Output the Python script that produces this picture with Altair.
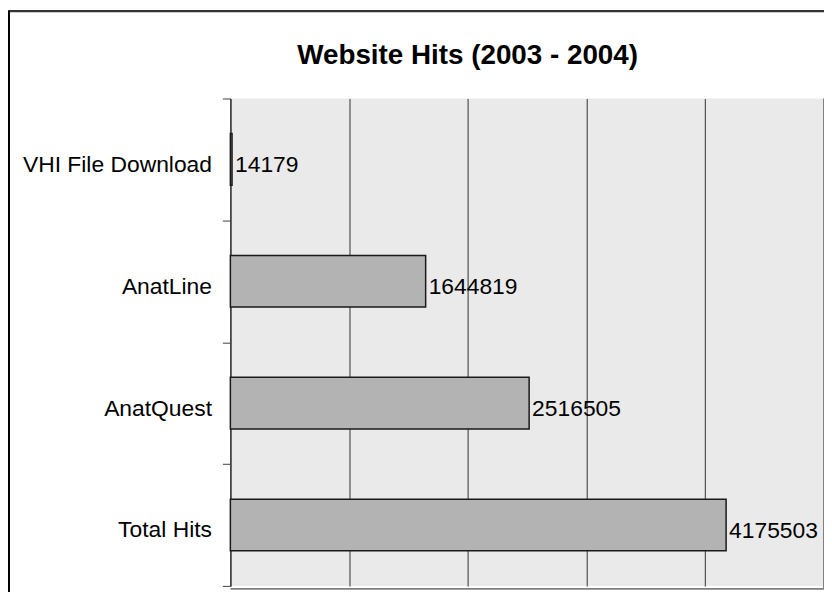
import altair as alt
import pandas as pd

categories = ["VHI File Download", "AnatLine", "AnatQuest", "Total Hits"]
hits = [14179, 1644819, 2516505, 4175503]
title_text = ["Website Hits (2003 - 2004)"]
x_ticks = [0, 1000000, 2000000, 3000000, 4000000, 5000000]

df = pd.DataFrame({"category": categories, "hits": hits})
tdf = pd.DataFrame({"t": title_text})

W, H = 598, 491
FONT = "Liberation Sans"

xs = alt.Scale(domain=[0, 5000000], nice=False, zero=True)
ys = alt.Scale(domain=categories, paddingInner=0, paddingOuter=0)

bars = alt.Chart(df).mark_bar(
    color="#B3B3B3", stroke="#1a1a1a", strokeWidth=1.5,
    height=alt.RelativeBandSize(band=0.424)
).encode(
    x=alt.X("hits:Q", scale=xs,
            axis=alt.Axis(values=x_ticks, labels=False, ticks=False, domain=False,
                          grid=True, gridColor="#505050", gridWidth=1.2, title=None)),
    y=alt.Y("category:N", scale=ys, sort=categories,
            axis=alt.Axis(title=None, tickBand="extent", tickSize=8, tickColor="#404040",
                          tickWidth=1, domainColor="#404040", domainWidth=1.5,
                          labelFont=FONT, labelFontSize=23, labelColor="#000000",
                          labelPadding=11, labelLimit=300, labelOffset=5)),
)

labels = alt.Chart(df).mark_text(
    align="left", baseline="middle", dx=3, dy=6, font=FONT, fontSize=23, color="#000000"
).encode(
    x=alt.X("hits:Q", scale=xs),
    y=alt.Y("category:N", scale=ys, sort=categories),
    text=alt.Text("hits:Q", format="d"),
)

title = alt.Chart(tdf).mark_text(
    align="center", baseline="alphabetic", font=FONT, fontSize=28,
    fontWeight="bold", color="#000000"
).encode(x=alt.value(239), y=alt.value(-35), text="t:N")

right_border = alt.Chart(tdf).mark_rule(color="#808080", strokeWidth=2).encode(
    x=alt.value(W), y=alt.value(0), y2=alt.value(H + 3))
bottom_border = alt.Chart(tdf).mark_rule(color="#808080", strokeWidth=2).encode(
    x=alt.value(0), x2=alt.value(W + 1), y=alt.value(H + 3))
frame_top = alt.Chart(tdf).mark_rule(color="#333333", strokeWidth=2.5).encode(
    x=alt.value(-223), x2=alt.value(W + 4), y=alt.value(-88))
frame_left = alt.Chart(tdf).mark_rule(color="#000000", strokeWidth=2).encode(
    x=alt.value(-223), y=alt.value(-89), y2=alt.value(H + 12))

chart = alt.layer(bars, labels, title, right_border, bottom_border, frame_top, frame_left).properties(
    width=W, height=H,
    autosize=alt.AutoSizeParams(type="none"),
    padding={"left": 224, "top": 89, "right": 0, "bottom": 4},
    background="#FFFFFF",
).configure_view(fill="#EAEAEA", stroke=None)

chart.save("out.html", embed_options={"renderer": "svg", "actions": False})
